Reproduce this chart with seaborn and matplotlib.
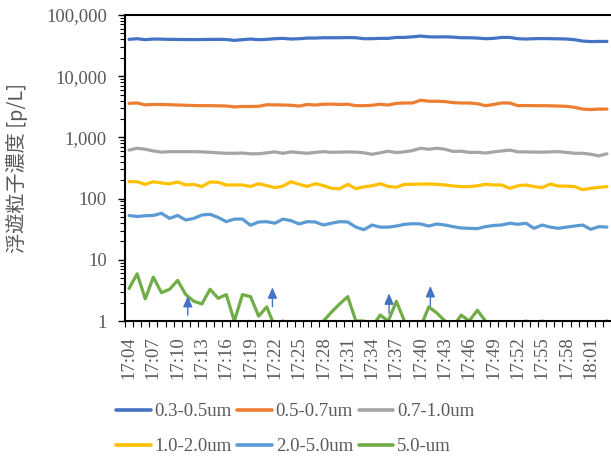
import numpy as np
import pandas as pd
import matplotlib
matplotlib.use("Agg")
import matplotlib.pyplot as plt
import seaborn as sns
from matplotlib.ticker import FixedLocator, LogLocator, NullFormatter, FuncFormatter

# ---------------- data ----------------
minutes = [f"{(4 + k) // 60 + 17}:{(4 + k) % 60:02d}" for k in range(60)]
series_names = ["0.3-0.5um", "0.5-0.7um", "0.7-1.0um", "1.0-2.0um", "2.0-5.0um", "5.0-um"]

s_03_05 = [40000, 41000, 39500, 40500, 40300, 40000, 39800, 39700, 39600, 39800,
           39900, 40000, 39800, 38500, 39500, 40500, 39500, 40000, 41000, 41500,
           40500, 41000, 42000, 42000, 42500, 42500, 42500, 42800, 42500, 41000,
           41000, 41500, 41500, 43000, 43000, 44000, 45300, 44000, 43800, 44000,
           43500, 42500, 42500, 42000, 41000, 41500, 43000, 43000, 41000, 40500,
           41000, 41200, 41000, 40800, 40500, 39500, 37500, 36800, 37000, 37000]
s_05_07 = [3600, 3650, 3400, 3450, 3450, 3420, 3380, 3350, 3320, 3300,
           3300, 3280, 3260, 3150, 3200, 3200, 3220, 3420, 3400, 3380,
           3350, 3250, 3450, 3380, 3480, 3500, 3450, 3480, 3300, 3300,
           3350, 3480, 3380, 3600, 3650, 3650, 4050, 3900, 3900, 3850,
           3700, 3650, 3650, 3550, 3300, 3450, 3650, 3650, 3300, 3320,
           3300, 3300, 3280, 3250, 3220, 3100, 2900, 2850, 2900, 2900]
s_07_10 = [620, 665, 640, 600, 575, 585, 585, 585, 585, 580,
           570, 560, 550, 550, 555, 540, 540, 560, 580, 550,
           580, 565, 550, 570, 585, 570, 575, 580, 575, 560,
           530, 560, 595, 565, 580, 610, 665, 640, 665, 640,
           590, 595, 570, 570, 555, 580, 600, 620, 580, 580,
           575, 575, 580, 585, 570, 550, 550, 530, 500, 540]
s_10_20 = [189, 189, 171, 189, 180, 174, 187, 167, 171, 157,
           187, 185, 167, 167, 167, 158, 175, 163, 151, 160,
           189, 171, 158, 175, 163, 147, 145, 171, 145, 156,
           162, 175, 158, 153, 171, 171, 173, 173, 171, 167,
           161, 157, 157, 162, 171, 167, 167, 147, 162, 167,
           157, 151, 173, 160, 160, 157, 140, 147, 153, 157]
s_20_50 = [53, 51, 52.5, 53, 57.5, 47.5, 53, 44.7, 47.5, 54,
           55.4, 49.2, 42, 46.3, 46.3, 36.7, 41.5, 42, 39.6, 46.3,
           43.6, 38.5, 42, 41.5, 37, 39.6, 42, 41.5, 34.2, 31.1,
           37, 34.2, 34.2, 35.6, 38, 38.9, 38.5, 35.6, 38.5, 37,
           34.8, 33.1, 32.7, 32.3, 34.8, 36.4, 37, 39.6, 38, 39.6,
           32.7, 37, 34.2, 32.7, 34.2, 35.6, 37, 31.5, 34.8, 34.2]
s_50_up = [3.4, 5.9, 2.3, 5.2, 2.9, 3.3, 4.6, 2.7, 2.1, 1.9,
           3.3, 2.35, 2.7, 1.0, 2.7, 2.5, 1.2, 1.7, 0, 1,
           0, 0, 0, 0, 1.0, 1.4, 1.9, 2.5, 1.0, 1.0,
           0, 1.25, 1.0, 2.1, 1.0, 0, 0, 1.7, 1.35, 1.0,
           0, 1.25, 1.0, 1.5, 1.0, 0, 0, 0, 0, 1,
           0, 1, 0, 0, 0, 0, 0, 0, 0, 1]

# annotation arrows (category position, arrow base value, arrow tip value)
arrow_x = [7.25, 17.7, 32.1, 37.2]
arrow_base = [1.25, 1.71, 1.34, 1.76]
arrow_tip = [2.56, 3.55, 2.83, 3.73]

colors = ["#4472C4", "#ED7D31", "#A5A5A5", "#FFC000", "#5B9BD5", "#70AD47"]

# zero counts cannot sit on a log axis; like the spreadsheet, draw them just under the axis floor
zero_floor = 0.8

# ---------------- frame ----------------
all_vals = [s_03_05, s_05_07, s_07_10, s_10_20, s_20_50, s_50_up]
frames = []
for name, vals in zip(series_names, all_vals):
    v = np.asarray(vals, dtype=float)
    frames.append(pd.DataFrame({"idx": np.arange(len(minutes)), "time": minutes,
                                "value": np.where(v > 0, v, zero_floor), "series": name}))
df = pd.concat(frames, ignore_index=True)

# ---------------- plot ----------------
sns.set_style("white")
plt.rcParams["font.family"] = ["Liberation Serif", "DejaVu Serif"]
txt_color = "#595959"
fs = 13.5

fig = plt.figure(figsize=(6.11, 4.61), dpi=100)
ax = fig.add_axes([125 / 611, 140 / 461, 486 / 611, 306 / 461])

sns.lineplot(data=df, x="idx", y="value", hue="series", hue_order=series_names,
             palette=colors, estimator=None, sort=False, linewidth=2.3,
             legend=False, ax=ax)
ax.set_yscale("log")
ax.set_ylim(1, 100000)
ax.set_xlim(-0.5, len(minutes) - 0.5)

# y ticks
ax.yaxis.set_major_locator(LogLocator(base=10))
ax.yaxis.set_minor_locator(LogLocator(base=10, subs=np.arange(2, 10)))
ax.yaxis.set_minor_formatter(NullFormatter())
ax.yaxis.set_major_formatter(FuncFormatter(lambda v, p: f"{int(round(v)):,}"))
ax.tick_params(axis="y", which="major", length=5, width=1, direction="out",
               left=True, labelsize=fs, labelcolor=txt_color, pad=8, color="black")
ax.tick_params(axis="y", which="minor", length=3.5, width=0.8, direction="out",
               left=True, color="black")

# x ticks: labels every 3 categories, tick marks at category boundaries
lab_pos = list(range(0, len(minutes), 3))
ax.xaxis.set_major_locator(FixedLocator(lab_pos))
ax.set_xticklabels([minutes[i] for i in lab_pos], rotation=90)
ax.xaxis.set_minor_locator(FixedLocator(np.arange(-0.5, len(minutes), 1.0)))
ax.tick_params(axis="x", which="major", length=0, labelsize=fs, labelcolor=txt_color, pad=11)
ax.tick_params(axis="x", which="minor", length=4, width=0.8, direction="out",
               bottom=True, color="black")

for side in ["left", "bottom", "top"]:
    ax.spines[side].set_visible(True)
    ax.spines[side].set_color("black")
    ax.spines[side].set_linewidth(1.5)
ax.spines["right"].set_visible(False)
ax.grid(False)

ax.set_xlabel("")
ax.set_ylabel("浮遊粒子濃度 [p/L]", family=["Noto Sans CJK JP", "DejaVu Sans"],
              fontsize=14.5, color=txt_color)
ax.yaxis.set_label_coords(-0.2, 0.5)

# arrows
for xa, yb, yt in zip(arrow_x, arrow_base, arrow_tip):
    ax.annotate("", xy=(xa, yt), xytext=(xa, yb),
                arrowprops=dict(arrowstyle="-|>,head_length=0.65,head_width=0.28",
                                color="#4472C4", lw=1.0, mutation_scale=10,
                                shrinkA=0, shrinkB=0))

# legend (row-wise order)
handles = [plt.Line2D([], [], color=c, lw=2.6) for c in colors]
order = [0, 3, 1, 4, 2, 5]
fig.legend([handles[i] for i in order], [series_names[i] for i in order],
           ncol=3, frameon=False, loc="upper left",
           bbox_to_anchor=(116 / 611, 1 - 403 / 461),
           fontsize=fs, labelcolor=txt_color, handlelength=1.85,
           handletextpad=0.2, columnspacing=0.3, labelspacing=0.95,
           borderaxespad=0, borderpad=0)

fig.savefig("out.png", dpi=100)
